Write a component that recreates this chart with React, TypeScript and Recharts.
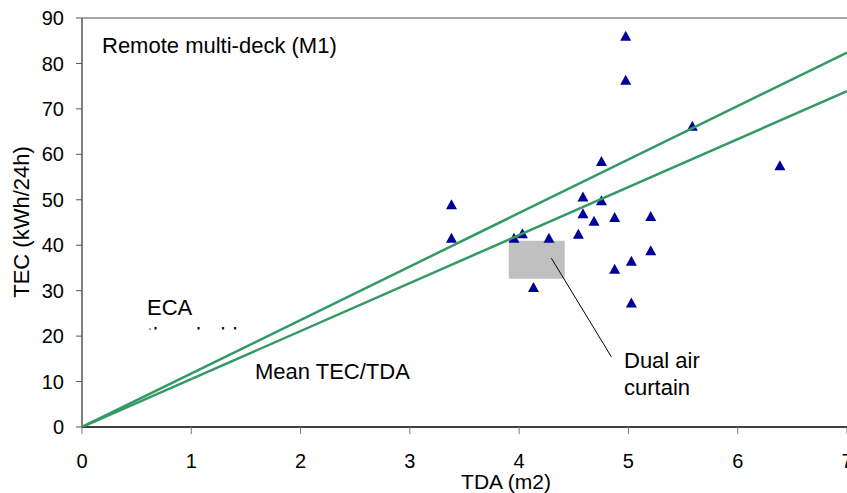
import React from "react";
import {
  ComposedChart,
  Scatter,
  XAxis,
  YAxis,
  ReferenceArea,
  ReferenceLine,
} from "recharts";

// Measured cabinets: TDA (m2) vs TEC (kWh/24h)
const tdaValues = [
  4.975, 4.975, 4.753, 3.381, 3.381, 4.584, 4.753, 4.584, 4.685, 4.874, 5.204,
  4.542, 3.953, 4.03, 4.273, 5.204, 5.027, 4.874, 4.131, 5.027, 5.585, 6.386,
];
const tecValues = [
  86.0, 76.3, 58.4, 48.9, 41.55, 50.6, 49.8, 46.9, 45.3, 46.1, 46.3, 42.4,
  41.55, 42.5, 41.55, 38.8, 36.5, 34.7, 30.7, 27.3, 66.2, 57.5,
];

// Reference lines through origin: ECA threshold and Mean TEC/TDA
const lineX = [0, 7];
const ecaThresholdY = [0, 82.4];
const meanTecTdaY = [0, 73.9];

// Dual air curtain box and its pointer
const dualBoxX = [3.905, 4.417];
const dualBoxY = [32.64, 40.96];
const pointerX = [4.295, 4.844];
const pointerY = [37.14, 15.44];

const xTicks = [0, 1, 2, 3, 4, 5, 6, 7];
const yTicks = [0, 10, 20, 30, 40, 50, 60, 70, 80, 90];

const points = tdaValues.map((x, i) => ({ x, y: tecValues[i] }));
const ecaLine = lineX.map((x, i) => ({ x, y: ecaThresholdY[i] }));
const meanLine = lineX.map((x, i) => ({ x, y: meanTecTdaY[i] }));

const FONT = "'Liberation Sans', Arial, sans-serif";
const GREEN = "#339966";
const NAVY = "#000099";

const Triangle = (props: any) => {
  const { cx, cy } = props;
  if (cx == null || cy == null) return <g />;
  const p = `${cx},${cy - 5.5} ${cx - 5.5},${cy + 4.5} ${cx + 5.5},${cy + 4.5}`;
  return <polygon points={p} fill={NAVY} />;
};

const NoShape = () => <g />;

export default function App() {
  return (
    <div style={{ position: "absolute", left: 0, top: 0, width: 847, height: 493, background: "#fff" }}>
      <ComposedChart
        width={847}
        height={493}
        margin={{ top: 18, right: 0, bottom: 36, left: 0 }}
      >
        <XAxis
          dataKey="x"
          type="number"
          domain={[0, 7]}
          ticks={xTicks}
          interval={0}
          allowDataOverflow
          height={30}
          tickSize={7}
          tickMargin={20}
          axisLine={{ stroke: "#000", strokeWidth: 1.5 }}
          tickLine={{ stroke: "#777" }}
          tick={{ fontSize: 20, fill: "#000", fontFamily: FONT }}
        />
        <YAxis
          dataKey="y"
          type="number"
          domain={[0, 90]}
          ticks={yTicks}
          interval={0}
          allowDataOverflow
          width={82}
          tickSize={6}
          tickMargin={12}
          axisLine={{ stroke: "#555", strokeWidth: 1.5 }}
          tickLine={{ stroke: "#555" }}
          tick={{ fontSize: 20, fill: "#000", fontFamily: FONT }}
        />
        <ReferenceLine y={90} stroke="#888" strokeWidth={1.5} />
        <Scatter data={points} shape={<Triangle />} isAnimationActive={false} />
        <Scatter
          data={ecaLine}
          line={{ stroke: GREEN, strokeWidth: 2.5 }}
          shape={<NoShape />}
          isAnimationActive={false}
        />
        <Scatter
          data={meanLine}
          line={{ stroke: GREEN, strokeWidth: 2.5 }}
          shape={<NoShape />}
          isAnimationActive={false}
        />
        <ReferenceArea
          x1={dualBoxX[0]}
          x2={dualBoxX[1]}
          y1={dualBoxY[0]}
          y2={dualBoxY[1]}
          fill="#c0c0c0"
          fillOpacity={1}
          stroke="none"
        />
        <ReferenceLine
          segment={[
            { x: pointerX[0], y: pointerY[0] },
            { x: pointerX[1], y: pointerY[1] },
          ]}
          stroke="#000"
          strokeWidth={1}
        />
      </ComposedChart>
      <svg
        width={847}
        height={493}
        style={{ position: "absolute", left: 0, top: 0, pointerEvents: "none" }}
        fontFamily={FONT}
      >
        <defs>
          <clipPath id="ecaClip">
            <rect x={0} y={0} width={847} height={329.5} />
          </clipPath>
        </defs>
        <text x={102} y={53} fontSize={22} fill="#000">
          Remote multi-deck (M1)
        </text>
        <text x={147} y={315} fontSize={22} fill="#000">
          ECA
        </text>
        <text x={147} y={343} fontSize={22} fill="#000" clipPath="url(#ecaClip)">
          threshold
        </text>
        <text x={255} y={379} fontSize={22} fill="#000">
          Mean TEC/TDA
        </text>
        <text x={624} y={367.5} fontSize={22} fill="#000">
          Dual air
        </text>
        <text x={624} y={395} fontSize={22} fill="#000">
          curtain
        </text>
        <text x={506} y={489} fontSize={21} fill="#000" textAnchor="middle">
          TDA (m2)
        </text>
        <text
          x={0}
          y={0}
          fontSize={22}
          fill="#000"
          textAnchor="middle"
          transform="translate(29,222) rotate(-90)"
        >
          TEC (kWh/24h)
        </text>
      </svg>
    </div>
  );
}
